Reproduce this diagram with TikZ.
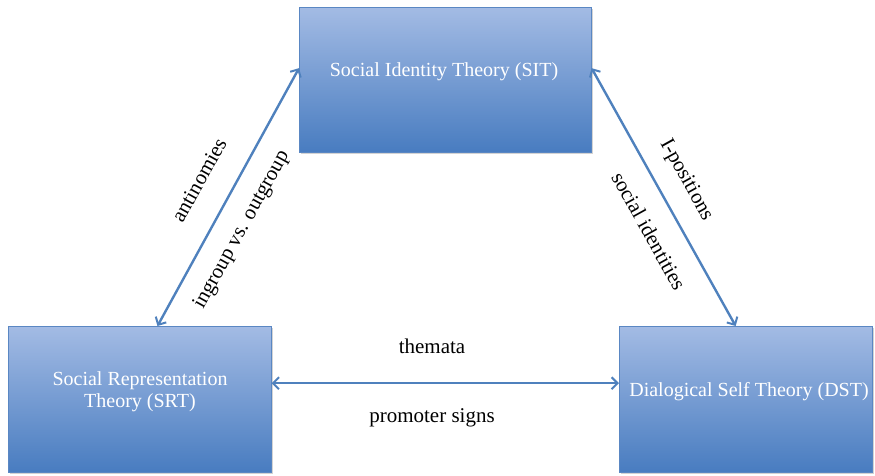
\documentclass[tikz,border=0pt]{standalone}
\usepackage{fontspec}
\setmainfont{Liberation Serif}
\usetikzlibrary{arrows.meta,shadows,calc}
\definecolor{boxtop}{RGB}{163,187,228}
\definecolor{boxbot}{RGB}{72,124,192}
\definecolor{boxline}{RGB}{90,135,195}
\definecolor{arrowcol}{RGB}{79,129,189}
\begin{document}
\begin{tikzpicture}[x=1pt,y=-1pt,
  theorybox/.style={draw=boxline,line width=0.6pt,top color=boxtop,bottom color=boxbot,
    drop shadow={opacity=0.35,shadow xshift=1.5pt,shadow yshift=-2pt},
    anchor=north west,inner sep=0pt},
  boxtext/.style={text=white,font=\fontsize{20}{22}\selectfont,align=center},
  edgetext/.style={text=black,font=\fontsize{21}{24}\selectfont},
  link/.style={draw=arrowcol,line width=2.4pt,{Straight Barb[length=6pt,width=12pt,line width=2pt]}-{Straight Barb[length=6pt,width=12pt,line width=2pt]}}
]
\useasboundingbox (0,0) rectangle (875,475);
\node[theorybox,minimum width=292pt,minimum height=145pt] (sit) at (299,7) {};
\node[theorybox,minimum width=263pt,minimum height=146pt] (srt) at (8,326) {};
\node[theorybox,minimum width=253pt,minimum height=146pt] (dst) at (619,326) {};
\node[boxtext] (sitt) at (444,72) {Social Identity Theory (SIT)};
\node[boxtext] (srtt) at (140,392) {Social Representation\\Theory (SRT)};
\node[boxtext] (dstt) at (749,392) {Dialogical Self Theory (DST)};
\coordinate (a1) at ($(srt.north west)!0.567!(srt.north east)$);
\coordinate (a2) at ($(sit.north west)!0.42!(sit.south west)$);
\coordinate (b1) at ($(sit.north east)!0.42!(sit.south east)$);
\coordinate (b2) at ($(dst.north west)!0.46!(dst.north east)$);
\coordinate (c1) at ($(srt.north east)!0.39!(srt.south east)$);
\coordinate (c2) at ($(dst.north west)!0.39!(dst.south west)$);
\draw[link] (a1) -- (a2);
\draw[link] (b1) -- (b2);
\draw[link] (c1) -- (c2);
\node[edgetext,rotate=61] (l1) at (199,180) {antinomies};
\node[edgetext,rotate=61] (l2) at (242,230) {ingroup vs. outgroup};
\node[edgetext,rotate=-61] (l3) at (686,180) {I-positions};
\node[edgetext,rotate=-61] (l4) at (649,231) {social identities};
\node[edgetext] (l5) at (432,346) {themata};
\node[edgetext] (l6) at (432,418) {promoter signs};
\end{tikzpicture}
\end{document}
